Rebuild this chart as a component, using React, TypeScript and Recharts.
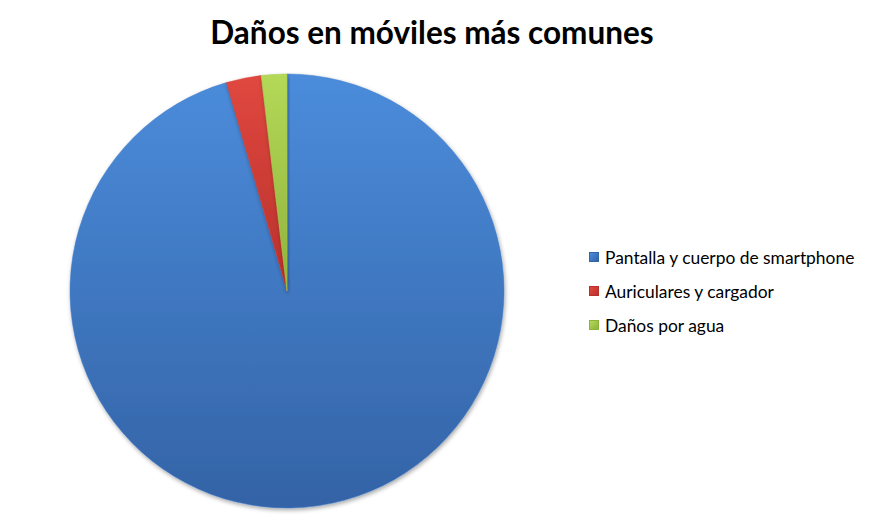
import { Cell, Pie, PieChart } from "recharts";

const categories = [
  "Pantalla y cuerpo de smartphone",
  "Auriculares y cargador",
  "Daños por agua",
];
const values = [95.5, 2.6, 1.9];
const colors = ["#3f7bc9", "#d23c35", "#a3c94a"];
const gradients = [
  ["#4b8cdb", "#3463a6"],
  ["#e0483f", "#b8302b"],
  ["#b4d957", "#8fb23c"],
];

const data = categories.map((name, i) => ({ name, value: values[i] }));

const ChartLegend = () => (
  <div style={{ position: "absolute", top: 240, left: 589 }}>
    {categories.map((name, i) => (
      <div
        key={name}
        style={{
          display: "flex",
          alignItems: "center",
          height: 34,
          fontFamily: "Lato, 'Open Sans', sans-serif",
          fontSize: 17.4,
          color: "#000",
          whiteSpace: "nowrap",
        }}
      >
        <span
          style={{
            display: "inline-block",
            width: 8,
            height: 8,
            marginRight: 6,
            background: `linear-gradient(135deg, ${gradients[i][0]}, ${gradients[i][1]})`,
            border: `1px solid ${gradients[i][1]}`,
          }}
        />
        {name}
      </div>
    ))}
  </div>
);

const App = () => {
  return (
    <div style={{ position: "relative", width: 869, height: 524, background: "#fff" }}>
      <style>{`body{margin:0}`}</style>
      <div
        style={{
          position: "absolute",
          top: 13,
          left: 0,
          width: 864,
          textAlign: "center",
          fontFamily: "Lato, 'Open Sans', sans-serif",
          fontWeight: 700,
          fontSize: 31.5,
          color: "#000",
        }}
      >
        Daños en móviles más comunes
      </div>
      <PieChart
        width={869}
        height={524}
        margin={{ top: 0, right: 0, bottom: 0, left: 0 }}
        style={{ position: "absolute", top: 0, left: 0 }}
      >
        <defs>
          {gradients.map((g, i) => (
            <linearGradient key={i} id={`grad${i}`} x1="0" y1="0" x2="0" y2="1">
              <stop offset="0%" stopColor={g[0]} />
              <stop offset="100%" stopColor={g[1]} />
            </linearGradient>
          ))}
          <filter id="shadow" x="-10%" y="-10%" width="120%" height="120%">
            <feDropShadow dx="1" dy="2" stdDeviation="2" floodColor="#000" floodOpacity="0.35" />
          </filter>
        </defs>
        <Pie
          data={data}
          dataKey="value"
          nameKey="name"
          cx={287}
          cy={291}
          outerRadius={217}
          startAngle={90}
          endAngle={-270}
          stroke="none"
          isAnimationActive={false}
          style={{ filter: "url(#shadow)" }}
        >
          {data.map((d, i) => (
            <Cell key={d.name} fill={`url(#grad${i})`} stroke={colors[i]} strokeWidth={0.5} />
          ))}
        </Pie>
      </PieChart>
      <ChartLegend />
    </div>
  );
};

export default App;
